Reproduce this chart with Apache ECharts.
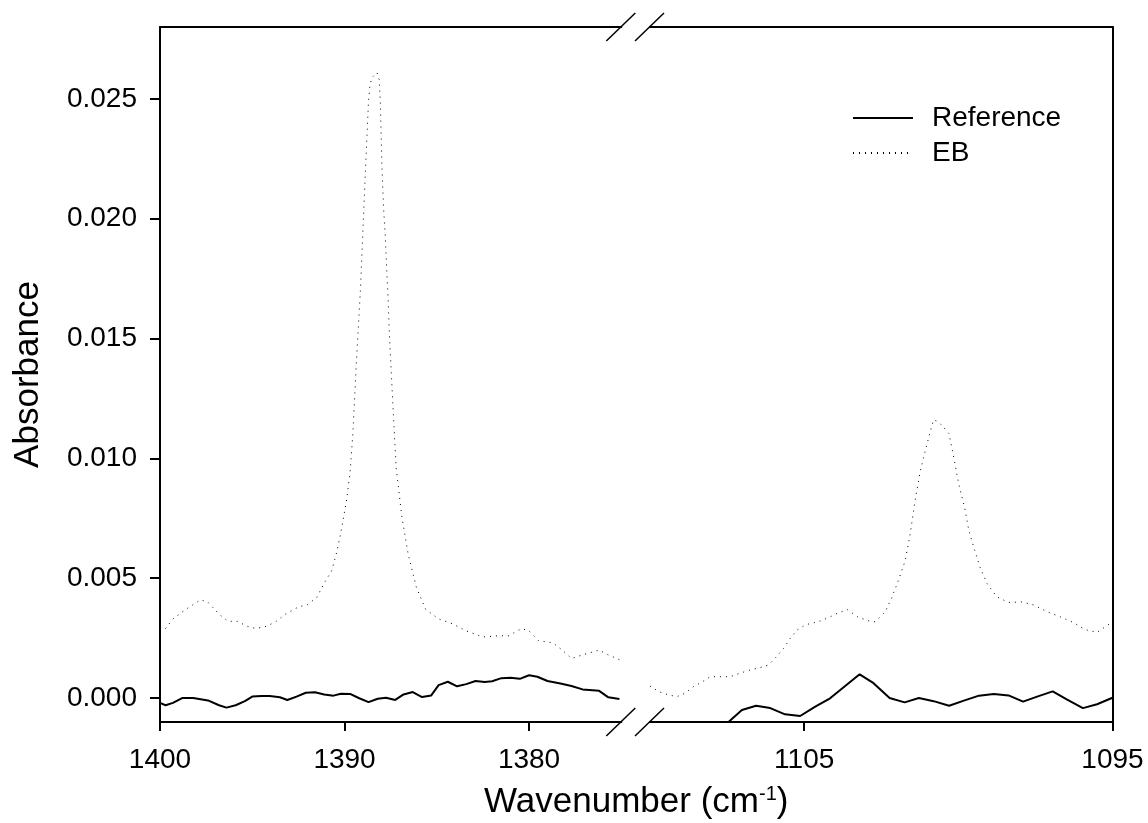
<!DOCTYPE html>
<html>
<head>
<meta charset="utf-8">
<script src="https://cdn.jsdelivr.net/npm/echarts@6/dist/echarts.min.js"></script>
<style>
html,body{margin:0;padding:0;background:#fff;}
#chart{width:1148px;height:823px;}
</style>
</head>
<body>
<div id="chart"></div>
<script>
// ---- data (wavenumber, absorbance) ----
const leftXTicks = [1400, 1390, 1380];
const rightXTicks = [1105, 1095];
const yTicks = [0, 0.005, 0.010, 0.015, 0.020, 0.025];
const seriesNames = ['Reference', 'EB'];

const refLeftW = [1400.0,1399.7,1399.3,1398.8,1398.2,1397.4,1396.8,1396.4,1395.9,1395.4,1395.0,1394.5,1394.05,1393.5,1393.1,1392.6,1392.1,1391.6,1391.1,1390.6,1390.2,1389.7,1389.2,1388.7,1388.2,1387.75,1387.25,1386.8,1386.3,1385.8,1385.3,1384.9,1384.4,1383.9,1383.4,1382.9,1382.4,1382.0,1381.5,1381.0,1380.5,1380.0,1379.55,1379.0,1378.3,1377.7,1377.1,1376.2,1375.7,1375.1];
const refLeftA = [-0.0002,-0.0003,-0.0002,0.0000,0.0000,-0.0001,-0.0003,-0.0004,-0.0003,-0.00013,0.00006,0.00008,0.00008,0.00003,-0.00008,0.00006,0.00022,0.00024,0.00015,0.0001,0.00018,0.00017,-0.00001,-0.00017,-0.00003,0.00001,-0.00008,0.00015,0.00025,0.00004,0.00011,0.00054,0.00068,0.00049,0.00058,0.00071,0.00067,0.0007,0.00083,0.00085,0.0008,0.00095,0.00089,0.00071,0.00061,0.0005,0.00036,0.0003,0.00003,-0.00004];

const ebLeftW = [1400.0,1399.7,1399.3,1398.6,1397.8,1397.4,1396.8,1396.3,1395.8,1395.3,1394.8,1394.2,1393.7,1393.2,1392.5,1392.0,1391.5,1391.1,1390.7,1390.45,1390.2,1389.9,1389.7,1389.55,1389.37,1389.14,1389.01,1388.86,1388.7,1388.62,1388.5,1388.24,1388.12,1388.06,1387.97,1387.88,1387.8,1387.72,1387.64,1387.57,1387.39,1387.2,1386.9,1386.55,1386.1,1385.6,1384.9,1384.15,1383.4,1382.5,1381.6,1381.1,1380.4,1380.0,1379.5,1378.7,1378.2,1377.7,1377.1,1376.2,1375.7,1375.1];
const ebLeftA = [0.0028,0.0029,0.0033,0.0037,0.0041,0.0040,0.0035,0.0032,0.0032,0.0030,0.0029,0.0030,0.0032,0.0035,0.0038,0.0039,0.0042,0.0048,0.0053,0.0060,0.0069,0.0082,0.0094,0.0110,0.0138,0.0170,0.0194,0.0221,0.0249,0.0256,0.0259,0.0261,0.0258,0.0249,0.0221,0.0204,0.0194,0.0180,0.0167,0.0152,0.0124,0.0096,0.0076,0.0060,0.0046,0.0037,0.0033,0.0031,0.0028,0.00255,0.0026,0.0026,0.0029,0.0028,0.0024,0.0023,0.0020,0.00165,0.0018,0.0020,0.0018,0.0016];

const refRightW = [1107.8,1107.02,1106.56,1106.1,1105.62,1105.13,1104.64,1104.16,1103.67,1103.2,1102.75,1102.23,1101.74,1101.28,1100.8,1100.3,1099.82,1099.33,1098.85,1098.37,1097.9,1097.42,1096.94,1096.47,1095.96,1095.5,1095.0];
const refRightA = [-0.0014,-0.0005,-0.00032,-0.00042,-0.00068,-0.00075,-0.00036,-0.00001,0.0005,0.00099,0.00062,0.0,-0.00018,0.0,-0.00013,-0.00032,-0.00011,0.0001,0.00017,0.00011,-0.00015,0.00007,0.00028,-0.00007,-0.00042,-0.00026,0.00001];

const ebRightW = [1110.0,1109.7,1109.4,1109.13,1108.86,1108.6,1108.3,1108.05,1107.7,1107.4,1107.1,1106.75,1106.4,1106.16,1105.9,1105.67,1105.45,1105.24,1104.95,1104.55,1104.2,1103.9,1103.6,1103.25,1102.9,1102.7,1102.37,1102.15,1101.94,1101.72,1101.56,1101.4,1101.23,1101.07,1100.9,1100.8,1100.64,1100.48,1100.3,1100.15,1099.99,1099.8,1099.66,1099.5,1099.3,1099.07,1098.75,1098.37,1097.93,1097.55,1097.12,1096.7,1096.25,1095.9,1095.5,1095.0];
const ebRightA = [0.0005,0.00026,0.00013,0.00006,0.0002,0.00047,0.00068,0.00089,0.00089,0.00089,0.00103,0.00117,0.00128,0.00138,0.00172,0.00207,0.00249,0.00283,0.00306,0.00318,0.00336,0.00355,0.00369,0.00337,0.00322,0.00318,0.0036,0.00422,0.00492,0.00575,0.00686,0.00825,0.0095,0.01033,0.01117,0.01161,0.01152,0.0113,0.01103,0.01005,0.00895,0.00797,0.007,0.0063,0.00547,0.00478,0.00422,0.00399,0.00401,0.00388,0.0036,0.00339,0.00314,0.00286,0.00274,0.00318];

// ---- chart ----
const zip = (xs, ys) => xs.map((x, i) => [x, ys[i]]);
const FONT = 'Liberation Sans, Arial, sans-serif';
const Y_MIN = -0.001, Y_MAX = 0.028;
const L_MIN = 1375, L_MAX = 1400, R_MIN = 1095, R_MAX = 1110;

const chart = echarts.init(document.getElementById('chart'), null, {renderer: 'canvas'});

const axisLine = {show: true, onZero: false, lineStyle: {color: '#000', width: 2}};
const noTick = {show: false};
const noLabel = {show: false};
const labelStyle = {color: '#000', fontSize: 28, fontFamily: FONT};

const solidStyle = {color: '#000', width: 2, type: 'solid'};
const dotStyle = {color: '#000', width: 1, type: [1, 5]};

function lineSeries(name, xi, yi, data, style) {
  return {
    name: name, type: 'line', xAxisIndex: xi, yAxisIndex: yi,
    data: data, symbol: 'none', showSymbol: false, smooth: false,
    lineStyle: style, itemStyle: {color: '#000'}, clip: true, silent: true
  };
}

const option = {
  animation: false,
  backgroundColor: '#fff',
  grid: [
    {left: 160, top: 27, width: 461.3, bottom: 101},
    {left: 650, top: 27, right: 35.5, bottom: 101}
  ],
  xAxis: [
    {gridIndex: 0, type: 'value', min: L_MIN, max: L_MAX, inverse: true, position: 'bottom',
     axisLine: axisLine, splitLine: {show: false},
     axisTick: {show: true, length: 9, customValues: leftXTicks, lineStyle: {color: '#000', width: 2}},
     axisLabel: Object.assign({customValues: leftXTicks, margin: 24, formatter: v => String(v)}, labelStyle)},
    {gridIndex: 1, type: 'value', min: R_MIN, max: R_MAX, inverse: true, position: 'bottom',
     axisLine: axisLine, splitLine: {show: false},
     axisTick: {show: true, length: 9, customValues: rightXTicks, lineStyle: {color: '#000', width: 2}},
     axisLabel: Object.assign({customValues: rightXTicks, margin: 24, formatter: v => String(v)}, labelStyle)},
    {gridIndex: 0, type: 'value', min: L_MIN, max: L_MAX, inverse: true, position: 'top',
     axisLine: axisLine, axisTick: noTick, axisLabel: noLabel, splitLine: {show: false}},
    {gridIndex: 1, type: 'value', min: R_MIN, max: R_MAX, inverse: true, position: 'top',
     axisLine: axisLine, axisTick: noTick, axisLabel: noLabel, splitLine: {show: false}}
  ],
  yAxis: [
    {gridIndex: 0, type: 'value', min: Y_MIN, max: Y_MAX, position: 'left',
     axisLine: axisLine, splitLine: {show: false},
     axisTick: {show: true, length: 10, customValues: yTicks, lineStyle: {color: '#000', width: 2}},
     axisLabel: Object.assign({customValues: yTicks, margin: 23, formatter: v => v.toFixed(3)}, labelStyle),
     name: 'Absorbance', nameLocation: 'middle', nameGap: 114, nameRotate: 90,
     nameTextStyle: {color: '#000', fontSize: 35, fontFamily: FONT}},
    {gridIndex: 1, type: 'value', min: Y_MIN, max: Y_MAX, position: 'right',
     axisLine: axisLine, axisTick: noTick, axisLabel: noLabel, splitLine: {show: false}}
  ],
  legend: {
    data: seriesNames, orient: 'vertical', left: 852, top: 104, padding: 0,
    itemWidth: 60, itemHeight: 14, itemGap: 7, selectedMode: false,
    itemStyle: {opacity: 0},
    textStyle: {color: '#000', fontSize: 28, fontFamily: FONT, padding: [0, 0, 0, 14]}
  },
  series: [
    lineSeries('Reference', 0, 0, zip(refLeftW, refLeftA), solidStyle),
    lineSeries('EB', 0, 0, zip(ebLeftW, ebLeftA), dotStyle),
    lineSeries('Reference', 1, 1, zip(refRightW, refRightA), solidStyle),
    lineSeries('EB', 1, 1, zip(ebRightW, ebRightA), dotStyle)
  ]
};
chart.setOption(option);

// axis break marks and x-axis title (positions derived from the axes)
const bl = chart.convertToPixel({xAxisIndex: 0, yAxisIndex: 0}, [L_MIN, Y_MIN]);
const tl = chart.convertToPixel({xAxisIndex: 0, yAxisIndex: 0}, [L_MIN, Y_MAX]);
const br = chart.convertToPixel({xAxisIndex: 1, yAxisIndex: 1}, [R_MAX, Y_MIN]);
const tr = chart.convertToPixel({xAxisIndex: 1, yAxisIndex: 1}, [R_MAX, Y_MAX]);
function slash(p) {
  return {type: 'line', silent: true, z: 100,
    shape: {x1: p[0] - 15, y1: p[1] + 14, x2: p[0] + 14, y2: p[1] - 14},
    style: {stroke: '#000', lineWidth: 1.5}};
}
const leftPx = chart.convertToPixel({xAxisIndex: 0}, L_MAX);
const rightPx = chart.convertToPixel({xAxisIndex: 1}, R_MIN);
chart.setOption({
  graphic: [
    slash(bl), slash(tl), slash(br), slash(tr),
    {type: 'text', silent: true, x: (leftPx + rightPx) / 2, y: 802, z: 100,
     style: {
       text: '{a|Wavenumber (cm}{s|-1}{a|)}',
       textAlign: 'center', textVerticalAlign: 'middle', fill: '#000',
       rich: {
         a: {fontSize: 35, fontFamily: FONT, fill: '#000', color: '#000'},
         s: {fontSize: 20, fontFamily: FONT, fill: '#000', color: '#000', verticalAlign: 'top', padding: [0, 0, 14, 0]}
       }
     }}
  ]
});
</script>
</body>
</html>
